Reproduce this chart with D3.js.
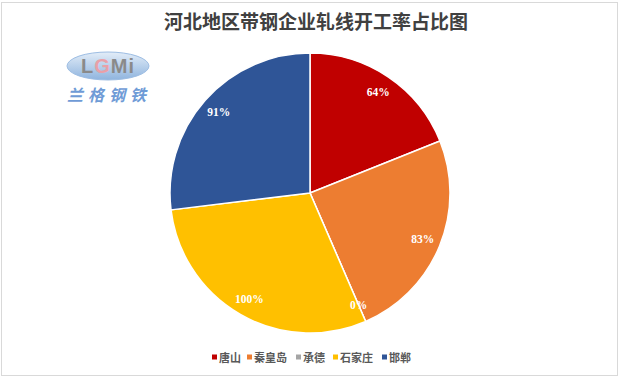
<!DOCTYPE html>
<html><head><meta charset="utf-8">
<script src="https://cdn.jsdelivr.net/npm/d3@7/dist/d3.min.js"></script>
<style>html,body{margin:0;padding:0;background:#fff;}svg{display:block;}</style>
</head><body>
<script>
const categories = ["唐山", "秦皇岛", "承德", "石家庄", "邯郸"];
const values = [64, 83, 0, 100, 91];
const labels = ["64%", "83%", "0%", "100%", "91%"];
const colors = ["#C00000", "#ED7D31", "#A5A5A5", "#FFC000", "#2F5597"];
const title = "河北地区带钢企业轧线开工率占比图";

const W = 623, H = 381;
const svg = d3.select("body").append("svg").attr("width", W).attr("height", H);
svg.append("rect").attr("x", 1.5).attr("y", 2.5).attr("width", 616).attr("height", 373)
  .attr("fill", "#fff").attr("stroke", "#D9D9D9").attr("stroke-width", 1);

svg.append("text").attr("x", 316).attr("y", 29).attr("text-anchor", "middle")
  .attr("font-family", "Noto Sans CJK SC").attr("font-size", 19).attr("font-weight", "bold")
  .attr("fill", "#404040").text(title);

// logo
const logo = svg.append("g");
const grad = svg.append("defs").append("linearGradient").attr("id", "lg").attr("x1", 0).attr("x2", 0).attr("y1", 0).attr("y2", 1);
grad.append("stop").attr("offset", "0%").attr("stop-color", "#E3EDF8");
grad.append("stop").attr("offset", "100%").attr("stop-color", "#8FB4DE");
logo.append("ellipse").attr("cx", 108).attr("cy", 66).attr("rx", 41).attr("ry", 14)
  .attr("fill", "url(#lg)").attr("stroke", "#9DBDE3").attr("stroke-width", 1);
logo.append("text").attr("x", 108).attr("y", 73).attr("text-anchor", "middle")
  .attr("font-family", "Liberation Sans").attr("font-size", 20).attr("font-weight", "bold")
  .attr("fill", "#8A8A8A").attr("letter-spacing", 1)
  .html('L<tspan fill="#E9A0A8">G</tspan>Mi');
logo.append("text").attr("x", 109).attr("y", 101).attr("text-anchor", "middle")
  .attr("font-family", "Noto Sans CJK SC").attr("font-size", 16).attr("font-weight", "bold").attr("font-style", "italic")
  .attr("fill", "#6F9BD6").attr("letter-spacing", 5).text("兰格钢铁");

const cx = 310, cy = 193, R = 140;
const pie = d3.pie().sort(null).value(d => d)(values);
const arc = d3.arc().innerRadius(0).outerRadius(R);
const g = svg.append("g").attr("transform", `translate(${cx},${cy})`);
g.selectAll("path").data(pie).join("path")
  .attr("d", arc).attr("fill", (d, i) => colors[i])
  .attr("stroke", "#fff").attr("stroke-width", 1.5).attr("stroke-linejoin", "round");

const lab = d3.arc().innerRadius(122).outerRadius(122);
g.selectAll("text.lbl").data(pie).join("text").attr("class", "lbl")
  .attr("transform", d => `translate(${lab.centroid(d)})`)
  .attr("text-anchor", "middle").attr("dy", "0.35em")
  .attr("font-family", "Liberation Serif").attr("font-size", 11.5).attr("font-weight", "bold")
  .attr("fill", "#fff").text((d, i) => labels[i]);

// legend
const legendX = [212, 247, 296, 333, 382];
const lg = svg.append("g");
categories.forEach((c, i) => {
  lg.append("rect").attr("x", legendX[i]).attr("y", 354.5).attr("width", 5).attr("height", 5).attr("fill", colors[i]);
  lg.append("text").attr("x", legendX[i] + 7).attr("y", 361.5)
    .attr("font-family", "Noto Sans CJK SC").attr("font-size", 11).attr("font-weight", "bold")
    .attr("fill", "#595959").text(c);
});
</script>
</body></html>
